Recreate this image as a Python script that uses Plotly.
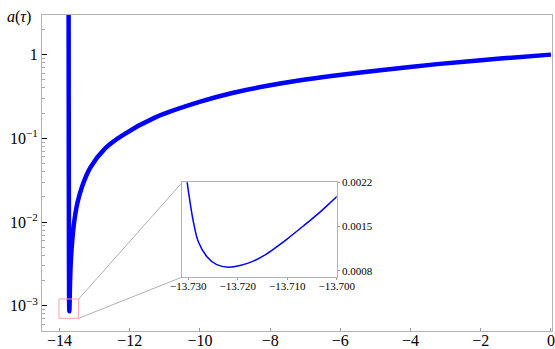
import plotly.graph_objects as go

# data
tau = [-13.742, -13.739, -13.736, -13.733, -13.7315, -13.73018, -13.72964, -13.72897,
       -13.72796, -13.72626, -13.72424, -13.72190, -13.71954, -13.71685, -13.71414,
       -13.71145, -13.71010, -13.70675, -13.70337, -13.70000, -13.68, -13.64, -13.60,
       -13.55, -13.49, -13.36, -13.12, -12.70, -12.22, -11.27, -9.99, -9.05, -8.08,
       -7.14, -6.20, -4.86, -3.24, -1.36, 0.0]
a_tau = [4.0, 0.3, 0.03, 0.006, 0.0031, 0.00218, 0.00189, 0.00158, 0.00126, 0.00103,
         0.00090, 0.00086, 0.000885, 0.000955, 0.00107, 0.00122, 0.00130, 0.00151,
         0.00173, 0.00197, 0.0033, 0.0059, 0.0088, 0.0125, 0.0170, 0.0265, 0.045,
         0.076, 0.108, 0.178, 0.274, 0.350, 0.424, 0.494, 0.560, 0.652, 0.770, 0.905,
         1.0]

x_ticks = [-14, -12, -10, -8, -6, -4, -2, 0]
x_ticktext = ["−14", "−12", "−10", "−8", "−6", "−4", "−2", "0"]
y_ticks = [0.001, 0.01, 0.1, 1]
y_ticktext = ["10<sup>−3</sup>", "10<sup>−2</sup>", "10<sup>−1</sup>", "1"]
y_minor = [m * d for d in (0.0001, 0.001, 0.01, 0.1, 1) for m in range(2, 10)]

inset_x_ticks = [-13.730, -13.720, -13.710, -13.700]
inset_x_text = ["−13.730", "−13.720", "−13.710", "−13.700"]
inset_y_ticks = [0.0008, 0.0015, 0.0022]
inset_y_text = ["0.0008", "0.0015", "0.0022"]

FONT = "Liberation Serif, DejaVu Serif, serif"
FRAME = "#b4b4b4"

fig = go.Figure()
fig.add_trace(go.Scatter(x=tau, y=a_tau, mode="lines",
                         line=dict(color="#0000ff", width=4.5, shape="spline", smoothing=0.8),
                         xaxis="x", yaxis="y", showlegend=False, hoverinfo="skip"))
fig.add_trace(go.Scatter(x=tau, y=a_tau, mode="lines",
                         line=dict(color="#0000ff", width=1.5, shape="spline"),
                         xaxis="x2", yaxis="y2", showlegend=False, hoverinfo="skip"))

W, H = 555, 349
# target plot area in window pixels
PL, PR, PT, PB = 42, 552, 15, 331
L, R, T, B = PL, W - PR, PT, H - PB
pw, ph = W - L - R, H - T - B


def px(x):
    return (x - PL) / pw


def py(y):
    return (PB - y) / ph


ins_x0, ins_x1, ins_y0, ins_y1 = 182.3, 336.7, 182.3, 277.0

fig.update_layout(
    width=W, height=H,
    margin=dict(l=L, r=R, t=T, b=B, autoexpand=False),
    paper_bgcolor="white", plot_bgcolor="white",
    font=dict(family=FONT, color="black", size=16),
    xaxis=dict(range=[-14.50, 0.03], tickmode="array", tickvals=x_ticks,
               ticktext=x_ticktext, ticks="inside", ticklen=3, tickcolor="#999999",
               ticklabelstandoff=-5, ticklabeloverflow="allow",
               showline=True, linecolor=FRAME, linewidth=1, mirror=True,
               showgrid=False, zeroline=False, tickfont=dict(size=16)),
    yaxis=dict(type="log", range=[-3.30, 0.473], tickmode="array", tickvals=y_ticks,
               ticktext=y_ticktext, ticks="inside", ticklen=5, tickcolor="black",
               ticklabeloverflow="allow",
               showline=True, linecolor=FRAME, linewidth=1, mirror=True,
               showgrid=False, zeroline=False, tickfont=dict(size=16),
               minor=dict(tickmode="array", tickvals=y_minor, ticks="inside",
                          ticklen=3, tickcolor="#aaaaaa", showgrid=False)),
    xaxis2=dict(domain=[px(ins_x0), px(ins_x1)], anchor="y2",
                range=[-13.7312, -13.700], tickmode="array", tickvals=inset_x_ticks,
                ticktext=inset_x_text, ticks="outside", ticklen=2, tickcolor="#999999",
                ticklabelstandoff=-3, ticklabeloverflow="allow",
                showline=True, linecolor=FRAME, linewidth=1, mirror=True,
                showgrid=False, zeroline=False, tickfont=dict(size=11)),
    yaxis2=dict(domain=[py(ins_y1), py(ins_y0)], anchor="x2", side="right",
                range=[0.000705, 0.0022], tickmode="array", tickvals=inset_y_ticks,
                ticktext=inset_y_text, ticks="outside", ticklen=2, tickcolor="#999999",
                ticklabeloverflow="allow",
                showline=True, linecolor=FRAME, linewidth=1, mirror=True,
                showgrid=False, zeroline=False, tickfont=dict(size=11)),
    annotations=[dict(text="<i>a</i>(<i>τ</i>)", xref="paper", yref="paper",
                      x=px(5), y=py(17), xanchor="left", yanchor="middle",
                      showarrow=False, font=dict(size=16, family=FONT))],
    shapes=[
        dict(type="rect", xref="paper", yref="paper",
             x0=px(59), x1=px(78.7), y0=py(318.3), y1=py(299),
             line=dict(color="#f4a0a0", width=1)),
        dict(type="line", xref="paper", yref="paper",
             x0=px(78.7), y0=py(299), x1=px(ins_x0), y1=py(ins_y0),
             line=dict(color="#b0b0b0", width=1)),
        dict(type="line", xref="paper", yref="paper",
             x0=px(78.7), y0=py(318.3), x1=px(ins_x0), y1=py(ins_y1),
             line=dict(color="#b0b0b0", width=1)),
    ],
)

fig.write_html("out.html",
               config={"displayModeBar": False},
               post_script="document.body.style.margin='0px';"
                           "document.body.style.overflow='hidden';")
